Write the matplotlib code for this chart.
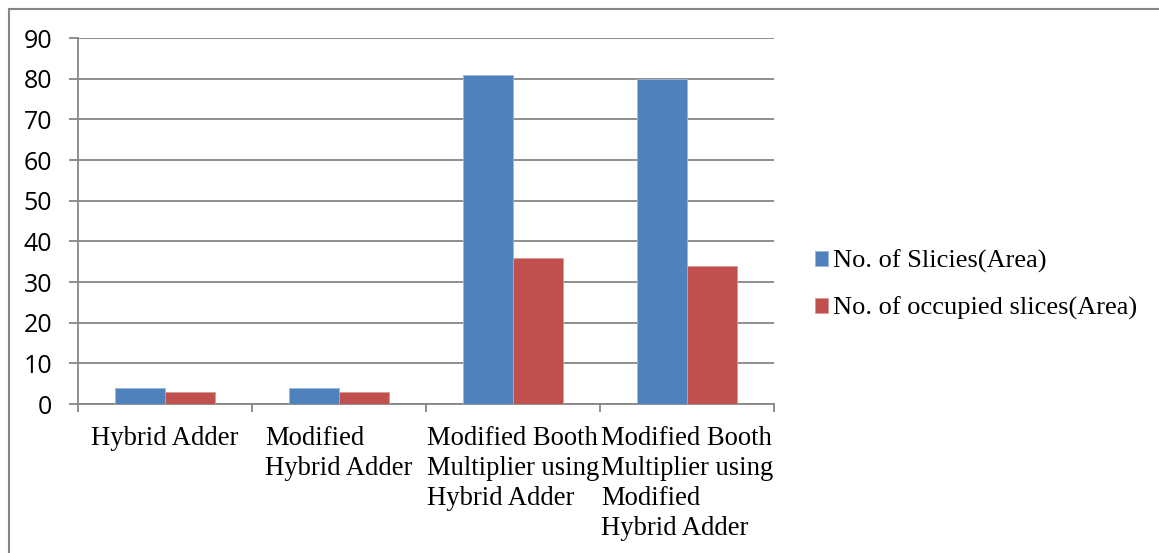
import matplotlib
matplotlib.use("Agg")
import matplotlib.pyplot as plt
from matplotlib.patches import Rectangle
import numpy as np

categories = ["Hybrid Adder",
              "Modified\nHybrid Adder",
              "Modified Booth\nMultiplier using\nHybrid Adder",
              "Modified Booth\nMultiplier using\nModified\nHybrid Adder"]
slices = [4, 4, 81, 80]
occupied = [3, 3, 36, 34]
series_names = ["No. of Slicies(Area)", "No. of occupied slices(Area)"]
yticks = [0, 10, 20, 30, 40, 50, 60, 70, 80, 90]

blue = "#4F81BD"
red = "#C0504D"
gray = "#868686"

fig = plt.figure(figsize=(11.59, 5.53), dpi=100)
ax = fig.add_axes([78/1159, 149/553, 696/1159, 366/553])

x = np.arange(len(categories))
w = 0.287
b1 = ax.bar(x - w/2, slices, w, color=blue, edgecolor="#9BB7DC", linewidth=0.6, zorder=3, label=series_names[0])
b2 = ax.bar(x + w/2, occupied, w, color=red, edgecolor="#DA9896", linewidth=0.6, zorder=3, label=series_names[1])

ax.set_xlim(-0.5, len(categories) - 0.5)
ax.set_ylim(0, 90)
ax.set_yticks(yticks)
ax.set_yticklabels([str(v) for v in yticks], fontfamily="Open Sans", fontsize=18)
ax.yaxis.grid(True, color=gray, linewidth=1.3, zorder=0)
ax.set_axisbelow(True)
ax.tick_params(axis="y", length=6.5, width=1.3, color=gray, pad=12)

ax.set_xticks(x)
ax.set_xticklabels(categories, fontfamily="Liberation Serif", fontsize=19.2,
                   va="top", ha="center", multialignment="left", linespacing=1.26)
ax.tick_params(axis="x", which="major", length=0, pad=16)
ax.set_xticks(np.arange(len(categories) + 1) - 0.5, minor=True)
ax.tick_params(axis="x", which="minor", length=5.5, width=1.3, color=gray, direction="out")

for s in ["top", "right"]:
    ax.spines[s].set_visible(False)
for s in ["left", "bottom"]:
    ax.spines[s].set_color(gray)
    ax.spines[s].set_linewidth(1.3)

leg = fig.legend(handles=[b1, b2], labels=series_names, loc="center left",
                 bbox_to_anchor=(815/1159, 1 - 285/553), frameon=False,
                 prop={"family": "Liberation Serif", "size": 19},
                 handlelength=0.5, handleheight=0.5, handletextpad=0.2,
                 labelspacing=0.88, borderaxespad=0, borderpad=0)

fig.patches.append(Rectangle((9/1159, -0.1), 1.2, 1 - 9/553 + 0.1,
                             transform=fig.transFigure, fill=False,
                             edgecolor=gray, linewidth=1.5))

fig.savefig("out.png", dpi=100)
